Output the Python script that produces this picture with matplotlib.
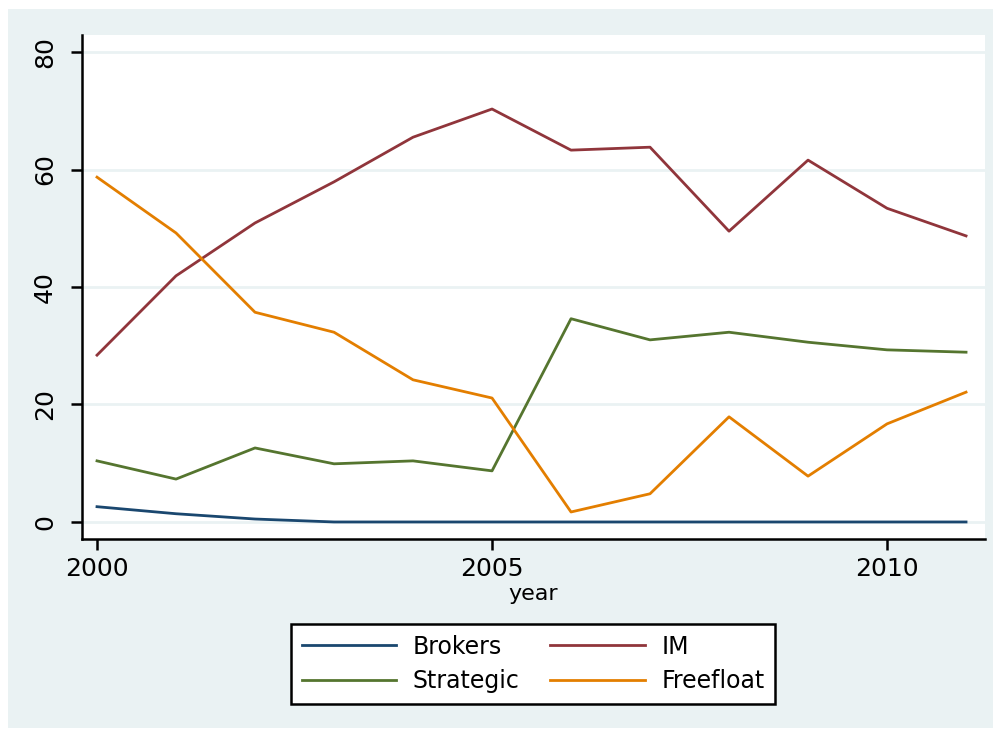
import numpy as np
import matplotlib.pyplot as plt
from matplotlib.patches import Rectangle

# Data --------------------------------------------------------------
years = [2000, 2001, 2002, 2003, 2004, 2005, 2006, 2007, 2008, 2009, 2010, 2011]
brokers = [2.6, 1.4, 0.5, 0, 0, 0, 0, 0, 0, 0, 0, 0]
im = [28.4, 41.9, 50.9, 57.9, 65.5, 70.3, 63.3, 63.8, 49.5, 61.6, 53.4, 48.7]
strategic = [10.4, 7.3, 12.6, 9.9, 10.4, 8.7, 34.6, 31.0, 32.3, 30.6, 29.3, 28.9]
freefloat = [58.7, 49.2, 35.7, 32.3, 24.2, 21.1, 1.7, 4.8, 17.9, 7.8, 16.7, 22.1]

# Stata s2color look ------------------------------------------------
bg = '#EAF2F3'
navy = '#1A476F'
maroon = '#90353B'
green = '#55752F'
orange = '#E37E00'

plt.rcParams['font.family'] = ['DejaVu Sans']

fig = plt.figure(figsize=(9.96, 7.31), dpi=100, facecolor='white')
fig.patches.append(Rectangle((8 / 996, 3 / 731), 985 / 996, 719 / 731,
                             transform=fig.transFigure, facecolor=bg,
                             edgecolor='none', zorder=-10))

ax = fig.add_axes([82 / 996, 1 - 539 / 731, 903 / 996, 504 / 731])
ax.set_facecolor('white')

l1, = ax.plot(years, brokers, color=navy, lw=2, label='Brokers')
l2, = ax.plot(years, im, color=maroon, lw=2, label='IM')
l3, = ax.plot(years, strategic, color=green, lw=2, label='Strategic')
l4, = ax.plot(years, freefloat, color=orange, lw=2, label='Freefloat')

ax.set_xlim(1999.81, 2011.24)
ax.set_ylim(-2.9, 82.9)
ax.set_xticks([2000, 2005, 2010])
ax.set_yticks([0, 20, 40, 60, 80])
ax.grid(axis='y', color=bg, lw=2)
ax.set_axisbelow(True)

for s in ['top', 'right']:
    ax.spines[s].set_visible(False)
for s in ['left', 'bottom']:
    ax.spines[s].set_linewidth(1.8)
ax.tick_params(axis='both', length=8, width=1.8, labelsize=18)
ax.tick_params(axis='x', pad=5)
ax.tick_params(axis='y', pad=10)
plt.setp(ax.get_yticklabels(), rotation=90, va='center')

ax.set_xlabel('year', fontsize=16, labelpad=2)

# row-wise legend order like Stata
fig.legend([l1, l3, l2, l4], ['Brokers', 'Strategic', 'IM', 'Freefloat'],
           loc='center', bbox_to_anchor=(533 / 996, 1 - 664 / 731), ncol=2,
           fontsize=17, frameon=True, fancybox=False, edgecolor='black',
           framealpha=1, handlelength=4.0, handletextpad=0.7,
           columnspacing=1.3, labelspacing=0.45, borderpad=0.45,
           borderaxespad=0)
fig.legends[0].get_frame().set_linewidth(1.8)

fig.savefig('out.png', dpi=100, facecolor='white')
